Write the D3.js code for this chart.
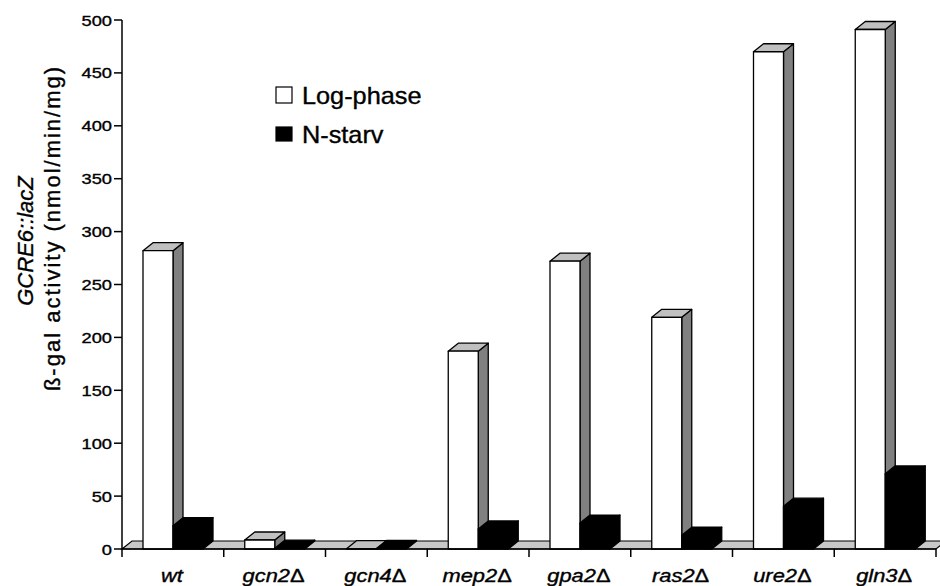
<!DOCTYPE html>
<html lang="en">
<head>
    <meta charset="UTF-8">
    <title>GCRE6::lacZ activity - D3.js v7</title>
    <script src="https://d3js.org/d3.v7.min.js"></script>
    <style>
        body {
            margin: 0;
            background: #fff;
            font-family: "Liberation Sans", Arial, Helvetica, sans-serif;
        }
        svg text {
            fill: #000;
            stroke: #000;
            stroke-width: 0.35;
        }
        .bar-face {
            stroke: #000;
            stroke-width: 1.3;
            stroke-linejoin: round;
        }
        .axis-line {
            stroke: #000;
            stroke-width: 1.5;
            fill: none;
        }
    </style>
</head>
<body>
    <div id="chart"></div>

    <script>
        // data
        const categories = ["wt", "gcn2", "gcn4", "mep2", "gpa2", "ras2", "ure2", "gln3"];
        const deleted = [false, true, true, true, true, true, true, true];   // label gets a delta
        const logPhase = [282, 8.5, 0.3, 187, 272, 219, 470, 491];
        const nStarv = [22, 0.8, 0.5, 19, 24.5, 13, 40.5, 71];
        const seriesNames = ["Log-phase", "N-starv"];
        const yTicks = [0, 50, 100, 150, 200, 250, 300, 350, 400, 450, 500];

        const totalWidth = 940, totalHeight = 586;

        // plot frame (front plane of the 3D box)
        const plot = { left: 122, right: 936, top: 20, bottom: 549 };
        const depth = { dx: 10, dy: 8 };

        const svg = d3.select("#chart")
            .append("svg")
            .attr("width", totalWidth)
            .attr("height", totalHeight);

        const x = d3.scaleBand()
            .domain(categories)
            .range([plot.left, plot.right])
            .paddingInner(0)
            .paddingOuter(0);

        const y = d3.scaleLinear()
            .domain([0, 500])
            .range([plot.bottom, plot.top]);

        // floor of the 3D box
        svg.append("path")
            .attr("d", d3.line()([
                [plot.left, plot.bottom],
                [plot.right, plot.bottom],
                [plot.right + depth.dx, plot.bottom - depth.dy],
                [plot.left + depth.dx, plot.bottom - depth.dy]
            ]) + "Z")
            .attr("fill", "#c8c8c8")
            .attr("stroke", "#000")
            .attr("stroke-width", 1.2);

        // layout of the two bars inside a category slot
        const offset = 21, barW = 30;

        const series = [
            { name: seriesNames[0], values: logPhase, front: "#ffffff", top: "#c0c0c0", side: "#808080", shift: 0 },
            { name: seriesNames[1], values: nStarv, front: "#000000", top: "#000000", side: "#000000", shift: barW }
        ];

        function drawBar(g, x0, v, s) {
            const x1 = x0 + barW;
            const yTop = y(v), y0 = y(0);
            const { dx, dy } = depth;
            // side face
            g.append("path").attr("class", "bar-face")
                .attr("fill", s.side)
                .attr("d", d3.line()([[x1, y0], [x1 + dx, y0 - dy], [x1 + dx, yTop - dy], [x1, yTop]]) + "Z");
            // top face
            g.append("path").attr("class", "bar-face")
                .attr("fill", s.top)
                .attr("d", d3.line()([[x0, yTop], [x0 + dx, yTop - dy], [x1 + dx, yTop - dy], [x1, yTop]]) + "Z");
            // front face
            g.append("rect").attr("class", "bar-face")
                .attr("fill", s.front)
                .attr("x", x0)
                .attr("y", yTop)
                .attr("width", barW)
                .attr("height", y0 - yTop);
        }

        const bars = svg.append("g");
        categories.forEach((c, i) => {
            series.forEach(s => {
                drawBar(bars, x(c) + offset + s.shift, s.values[i], s);
            });
        });

        // y axis
        const yAxis = svg.append("g");
        yAxis.append("line").attr("class", "axis-line")
            .attr("x1", plot.left).attr("x2", plot.left)
            .attr("y1", plot.top).attr("y2", plot.bottom + 8);
        yTicks.forEach(t => {
            yAxis.append("line").attr("class", "axis-line")
                .attr("x1", plot.left - 8).attr("x2", plot.left)
                .attr("y1", y(t)).attr("y2", y(t));
            yAxis.append("text")
                .attr("transform", `translate(${plot.left - 10},${y(t) + 5.5}) scale(1.22,1)`)
                .attr("text-anchor", "end")
                .attr("font-size", 15)
                .text(t);
        });

        // x axis
        const xAxis = svg.append("g");
        xAxis.append("line").attr("class", "axis-line")
            .attr("x1", plot.left).attr("x2", plot.right)
            .attr("y1", plot.bottom).attr("y2", plot.bottom);
        categories.forEach(c => {
            const xr = x(c) + x.bandwidth();
            xAxis.append("line").attr("class", "axis-line")
                .attr("x1", xr).attr("x2", xr)
                .attr("y1", plot.bottom).attr("y2", plot.bottom + 8);
        });
        categories.forEach((c, i) => {
            const t = xAxis.append("text")
                .attr("transform", `translate(${x(c) + x.bandwidth() / 2 - 1},582) scale(1.25,1)`)
                .attr("text-anchor", "middle")
                .attr("font-size", 17.5)
                .attr("font-style", "italic");
            t.append("tspan").text(c);
            if (deleted[i]) t.append("tspan").attr("font-style", "normal").text("\u0394");
        });

        // y axis title, two lines
        svg.append("text")
            .attr("transform", "translate(33,241) rotate(-90)")
            .attr("text-anchor", "middle")
            .attr("font-size", 22)
            .attr("font-style", "italic")
            .text("GCRE6::lacZ");
        svg.append("text")
            .attr("transform", "translate(60,228) rotate(-90)")
            .attr("text-anchor", "middle")
            .attr("font-size", 22)
            .attr("letter-spacing", 2)
            .text("\u00df-gal activity (nmol/min/mg)");

        // legend
        const legend = svg.append("g");
        series.forEach((s, i) => {
            const ly = 87 + i * 39;
            legend.append("rect")
                .attr("x", 276).attr("y", ly + (i ? 1 : 0))
                .attr("width", 16).attr("height", i ? 14 : 16)
                .attr("fill", s.front)
                .attr("stroke", "#000")
                .attr("stroke-width", 1.2);
            legend.append("text")
                .attr("transform", `translate(302,${ly + 17}) scale(1.1,1)`)
                .attr("font-size", 23)
                .text(s.name);
        });
    </script>
</body>
</html>
